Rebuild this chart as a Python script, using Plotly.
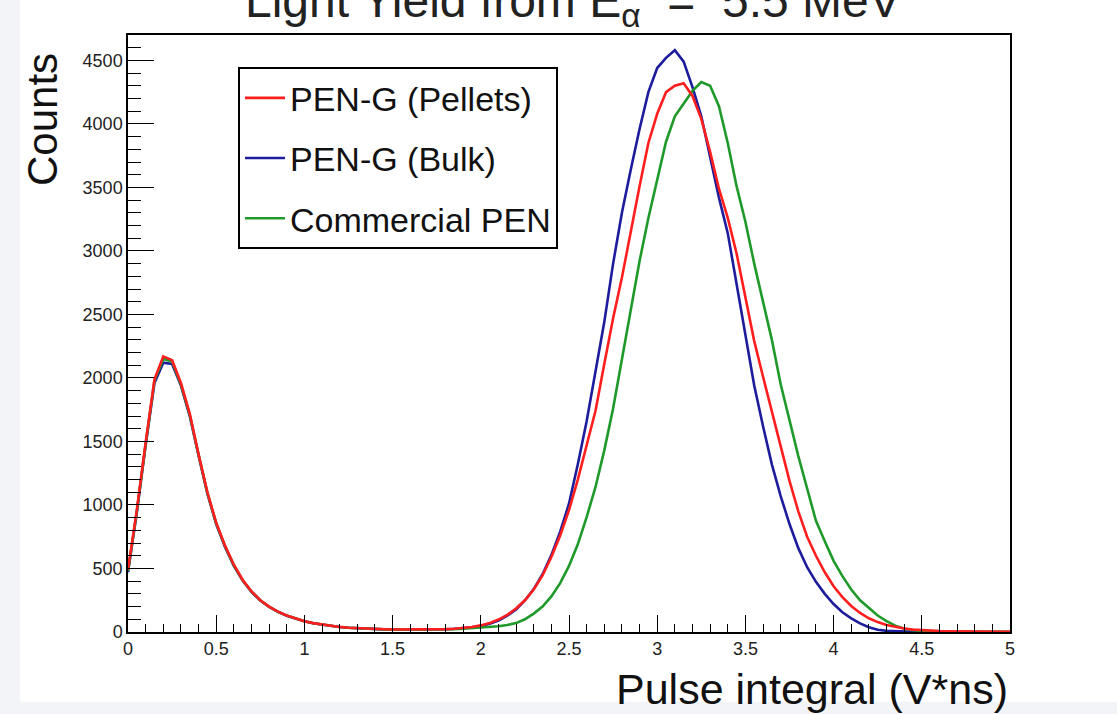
import plotly.graph_objects as go

# Bin centres (pulse integral, V*ns)
x_bins = [round(i * 0.05, 2) for i in range(101)]

pellets = [
    490, 960, 1490, 1990, 2170, 2140, 1960, 1720, 1400, 1100,
    860, 680, 530, 410, 320, 250, 200, 160, 130, 105,
    85, 70, 58, 48, 40, 34, 30, 27, 24, 22,
    20, 20, 19, 19, 20, 21, 23, 26, 31, 40,
    52, 70, 98, 135, 185, 250, 335, 445, 590, 760,
    960, 1200, 1470, 1740, 2110, 2470, 2790, 3160, 3510, 3850,
    4080, 4250, 4300, 4320, 4220, 4040, 3780, 3490, 3260, 2980,
    2640, 2290, 2010, 1740, 1460, 1190, 950, 750, 600, 470,
    360, 275, 205, 150, 108, 78, 55, 40, 28, 19,
    14, 10, 8, 6, 5, 4, 3, 3, 2, 2,
    2,
]

bulk = [
    470, 940, 1470, 1960, 2120, 2110, 1940, 1700, 1390, 1090,
    850, 670, 520, 405, 315, 248, 198, 158, 128, 104,
    84, 69, 57, 47, 39, 33, 29, 26, 23, 21,
    19, 19, 18, 18, 19, 20, 22, 25, 30, 38,
    48, 64, 90, 128, 178, 248, 338, 455, 605, 790,
    1010, 1320, 1660, 2060, 2440, 2900, 3300, 3640, 3960, 4250,
    4440, 4520, 4580, 4490, 4290, 4060, 3730, 3420, 3140, 2740,
    2330, 1940, 1620, 1320, 1070, 850, 660, 510, 395, 300,
    220, 155, 108, 68, 38, 18, 9, 5, 3, 2,
    1, 1, 1, 0, 0, 0, 0, 0, 0, 0,
    0,
]

commercial = [
    480, 950, 1480, 1980, 2150, 2130, 1950, 1710, 1395, 1095,
    855, 675, 525, 408, 318, 249, 199, 159, 129, 104,
    84, 69, 57, 47, 39, 33, 29, 26, 23, 21,
    19, 19, 18, 18, 18, 19, 20, 22, 25, 29,
    33, 38, 45, 55, 70, 100, 145, 200, 280, 385,
    520, 690, 905, 1140, 1430, 1760, 2150, 2550, 2920, 3260,
    3560, 3860, 4060, 4160, 4260, 4330, 4300, 4140, 3850, 3510,
    3230, 2900, 2610, 2300, 1950, 1660, 1385, 1130, 875, 715,
    560, 440, 335, 250, 190, 130, 86, 50, 25, 14,
    9, 6, 4, 3, 2, 2, 1, 1, 1, 1,
    1,
]

series_names = ["PEN-G (Pellets)", "PEN-G (Bulk)", "Commercial PEN"]
series_colors = ["#ff1e1e", "#1c1c9c", "#1f9a2a"]

x_tick_vals = [0, 0.5, 1, 1.5, 2, 2.5, 3, 3.5, 4, 4.5, 5]
x_tick_text = ["0", "0.5", "1", "1.5", "2", "2.5", "3", "3.5", "4", "4.5", "5"]
y_tick_vals = [0, 500, 1000, 1500, 2000, 2500, 3000, 3500, 4000, 4500]
y_tick_text = [str(v) for v in y_tick_vals]

FONT = "Liberation Sans, Arial, Helvetica, sans-serif"

fig = go.Figure()
# drawing order: bulk, commercial, pellets (pellets on top); legend order by rank
draw = [(1, bulk), (2, commercial), (0, pellets)]
for idx, vals in draw:
    fig.add_trace(go.Scatter(
        x=x_bins, y=vals, mode="lines", name=series_names[idx],
        line=dict(color=series_colors[idx], width=2.6),
        legendrank=idx + 1, legendgroup=series_names[idx],
    ))

fig.update_layout(
    width=1117, height=714,
    margin=dict(l=128, r=107, t=35, b=82),
    paper_bgcolor="#f2f4f7",
    plot_bgcolor="white",
    font=dict(family=FONT, color="#222"),
    showlegend=True,
    legend=dict(
        x=0.1247, y=0.946, xanchor="left", yanchor="top",
        bgcolor="white", bordercolor="black", borderwidth=2,
        font=dict(size=34, family=FONT, color="#111"),
        tracegroupgap=13, itemwidth=40,
    ),
    shapes=[dict(type="rect", xref="paper", yref="paper",
                 x0=-0.1224, x1=1.3, y0=-0.117, y1=1.2,
                 fillcolor="white", line=dict(width=0), layer="below")],
    annotations=[
        dict(text="Light Yield from E<sub>α</sub>\u00a0 = \u00a05.5 MeV",
             xref="paper", yref="paper", x=0.505, y=1.052,
             xanchor="center", yanchor="middle", showarrow=False,
             font=dict(size=48, family=FONT, color="#222")),
        dict(text="Counts", xref="paper", yref="paper",
             x=-0.0975, y=0.8576, xanchor="center", yanchor="middle",
             textangle=-90, showarrow=False,
             font=dict(size=42, family=FONT, color="#111")),
        dict(text="Pulse integral (V*ns)", xref="paper", yref="paper",
             x=1.0, y=-0.095, xanchor="right", yanchor="middle",
             showarrow=False,
             font=dict(size=43, family=FONT, color="#111")),
    ],
)

fig.update_xaxes(
    range=[0, 5], tickvals=x_tick_vals, ticktext=x_tick_text,
    ticks="inside", ticklen=17, tickwidth=1.2, tickcolor="black",
    minor=dict(dtick=0.1, ticks="inside", ticklen=8, tickwidth=1.2, tickcolor="black"),
    showline=True, linecolor="black", linewidth=1.5, mirror=True,
    showgrid=False, zeroline=False,
    tickfont=dict(size=18, family=FONT, color="#222"),
)
fig.update_yaxes(
    range=[0, 4700], tickvals=y_tick_vals, ticktext=y_tick_text,
    ticks="inside", ticklen=26, tickwidth=1.2, tickcolor="black",
    minor=dict(dtick=100, ticks="inside", ticklen=13, tickwidth=1.2, tickcolor="black"),
    showline=True, linecolor="black", linewidth=1.5, mirror=True,
    showgrid=False, zeroline=False,
    tickfont=dict(size=18, family=FONT, color="#222"),
)

fig.write_html("out.html")
